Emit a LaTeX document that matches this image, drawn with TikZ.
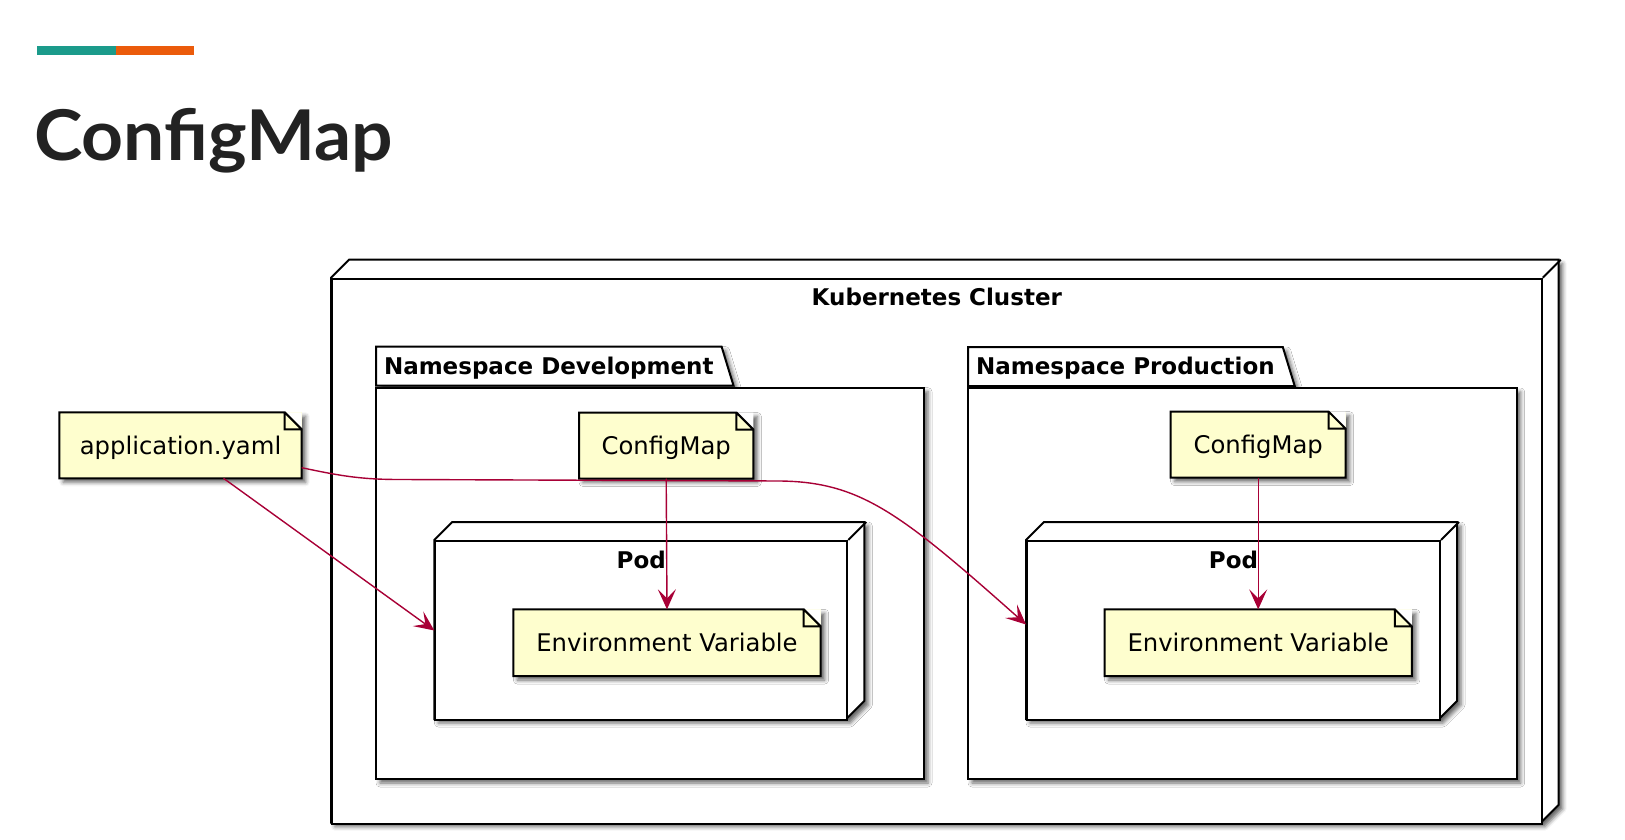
\documentclass[tikz,border=0pt]{standalone}
\usepackage{fontspec}
\setmainfont{DejaVu Sans}
\newfontfamily\titlefont{Lato}[FakeStretch=1.045]
\usetikzlibrary{arrows.meta,shapes.geometric,shadows.blur}
\definecolor{notefill}{HTML}{FEFECE}
\definecolor{arrowred}{HTML}{A80036}
\definecolor{barteal}{HTML}{1B9B8B}
\definecolor{barorange}{HTML}{EB5B0B}
\definecolor{titlegray}{HTML}{222222}
\newcommand{\notefont}{\fontsize{24.3pt}{29pt}\selectfont}
\newcommand{\boxfont}{\fontsize{23pt}{27pt}\selectfont\bfseries}

\begin{document}
\begin{tikzpicture}[x=1pt,y=-1pt]

	\tikzstyle{myshadow}=[blur shadow={shadow xshift=4pt, shadow yshift=-4pt, shadow blur radius=4pt, shadow opacity=60}]
	\tikzstyle{mybox}=[draw=black, line width=2pt, fill=white, line join=miter]
	\tikzstyle{myface}=[mybox, inner sep=0pt, anchor=north west]
	\tikzstyle{mytab}=[mybox, myshadow, trapezium, trapezium left angle=90, trapezium right angle=73,
		inner xsep=8pt, inner ysep=11.1pt, text height=16.8pt, text depth=0pt,
		font=\boxfont, anchor=bottom left corner]
	\tikzstyle{mynote}=[fill=notefill, myshadow, inner sep=0pt, outer sep=0pt,
		minimum height=66pt, text height=17.7pt, text depth=0pt, font=\notefont,
		path picture={\fill[white] ([xshift=-17pt]path picture bounding box.north east)
			-- (path picture bounding box.north east) -- ([yshift=-17pt]path picture bounding box.north east) -- cycle;}]
	\tikzstyle{myfold}=[draw=black, line width=2pt, line join=miter]
	\tikzstyle{mylabel}=[anchor=north, inner sep=0pt, yshift=-11pt, font=\boxfont, text height=16.8pt, text depth=0pt]
	\tikzstyle{myarrow}=[draw=arrowred, line width=1.4pt, -{Stealth[length=20pt, width=18pt, inset=9pt]}]

	\useasboundingbox (0,0) rectangle (1625,840);

	% title
	\fill[barteal] (37.3,46) rectangle (116,55.3);
	\fill[barorange] (116,46) rectangle (194,55.3);
	\node[anchor=base west, inner sep=0pt, text=titlegray, font=\titlefont\fontsize{70pt}{74pt}\selectfont\bfseries] (title) at (34,160.7) {ConfigMap};

	\coordinate (pcluster) at (331,277.7);
	\coordinate (pnsdev) at (375,386.7);
	\coordinate (pnsprod) at (967,387);
	\coordinate (ppoddev) at (434.3,540);
	\coordinate (ppodprod) at (1026,540);

	\coordinate (pappyaml) at (180.5,445.3);
	\coordinate (pcmdev) at (666.2,445.5);
	\coordinate (pcmprod) at (1258.2,444.7);
	\coordinate (penvdev) at (667,642.7);
	\coordinate (penvprod) at (1258.2,642.7);

	% cluster
	\draw[mybox, myshadow] (pcluster) -- ++(18,-18) -- ++(1209.7,0) -- ++(0,545) -- ++(-18,18) -- ++(-1209.7,0) -- cycle;
	\node[myface, minimum width=1209.7pt, minimum height=545pt, label={[mylabel]north:Kubernetes Cluster}] (cluster) at (pcluster) {};
	\draw[mybox] (cluster.north east) -- ++(18,-18);

	% namespaces
	\node[mytab] (nsdevtab) at (pnsdev) {Namespace Development};
	\node[myface, myshadow, minimum width=548pt, minimum height=391.3pt] (nsdev) at (pnsdev) {};
	\node[mytab] (nsprodtab) at (pnsprod) {Namespace Production};
	\node[myface, myshadow, minimum width=548.7pt, minimum height=391pt] (nsprod) at (pnsprod) {};

	% pods
	\draw[mybox, myshadow] (ppoddev) -- ++(18,-18) -- ++(412,0) -- ++(0,179) -- ++(-18,18) -- ++(-412,0) -- cycle;
	\node[myface, minimum width=412pt, minimum height=179pt, label={[mylabel]north:Pod}] (poddev) at (ppoddev) {};
	\draw[mybox] (poddev.north east) -- ++(18,-18);

	\draw[mybox, myshadow] (ppodprod) -- ++(18,-18) -- ++(413,0) -- ++(0,179) -- ++(-18,18) -- ++(-413,0) -- cycle;
	\node[myface, minimum width=413pt, minimum height=179pt, label={[mylabel]north:Pod}] (podprod) at (ppodprod) {};
	\draw[mybox] (podprod.north east) -- ++(18,-18);

	% notes
	\node[mynote, minimum width=242.4pt] (appyaml) at (pappyaml) {application.yaml};
	\node[mynote, minimum width=174.3pt] (cmdev) at (pcmdev) {ConfigMap};
	\node[mynote, minimum width=175pt] (cmprod) at (pcmprod) {ConfigMap};
	\node[mynote, minimum width=307.4pt, minimum height=66.7pt] (envdev) at (penvdev) {Environment Variable};
	\node[mynote, minimum width=307.4pt, minimum height=66.7pt] (envprod) at (penvprod) {Environment Variable};

	\draw[myfold] (appyaml.north west) -- ([xshift=-17pt]appyaml.north east) -- ([yshift=-17pt]appyaml.north east) -- (appyaml.south east) -- (appyaml.south west) -- cycle
		([xshift=-17pt]appyaml.north east) |- ([yshift=-17pt]appyaml.north east);
	\draw[myfold] (cmdev.north west) -- ([xshift=-17pt]cmdev.north east) -- ([yshift=-17pt]cmdev.north east) -- (cmdev.south east) -- (cmdev.south west) -- cycle
		([xshift=-17pt]cmdev.north east) |- ([yshift=-17pt]cmdev.north east);
	\draw[myfold] (cmprod.north west) -- ([xshift=-17pt]cmprod.north east) -- ([yshift=-17pt]cmprod.north east) -- (cmprod.south east) -- (cmprod.south west) -- cycle
		([xshift=-17pt]cmprod.north east) |- ([yshift=-17pt]cmprod.north east);
	\draw[myfold] (envdev.north west) -- ([xshift=-17pt]envdev.north east) -- ([yshift=-17pt]envdev.north east) -- (envdev.south east) -- (envdev.south west) -- cycle
		([xshift=-17pt]envdev.north east) |- ([yshift=-17pt]envdev.north east);
	\draw[myfold] (envprod.north west) -- ([xshift=-17pt]envprod.north east) -- ([yshift=-17pt]envprod.north east) -- (envprod.south east) -- (envprod.south west) -- cycle
		([xshift=-17pt]envprod.north east) |- ([yshift=-17pt]envprod.north east);

	% arrows
	\draw[myarrow] ([xshift=43pt]appyaml.south) -- (poddev.west);
	\draw[myarrow] ([yshift=-22.4pt]appyaml.east) .. controls +(38,8) and +(-40,0) .. (400,479.5)
		-- (780,481) .. controls +(80,1) and +(-126,-112) .. ([yshift=6pt]podprod.west);
	\draw[myarrow] (cmdev.south) -- (envdev.north);
	\draw[myarrow] (cmprod.south) -- (envprod.north);

\end{tikzpicture}
\end{document}
